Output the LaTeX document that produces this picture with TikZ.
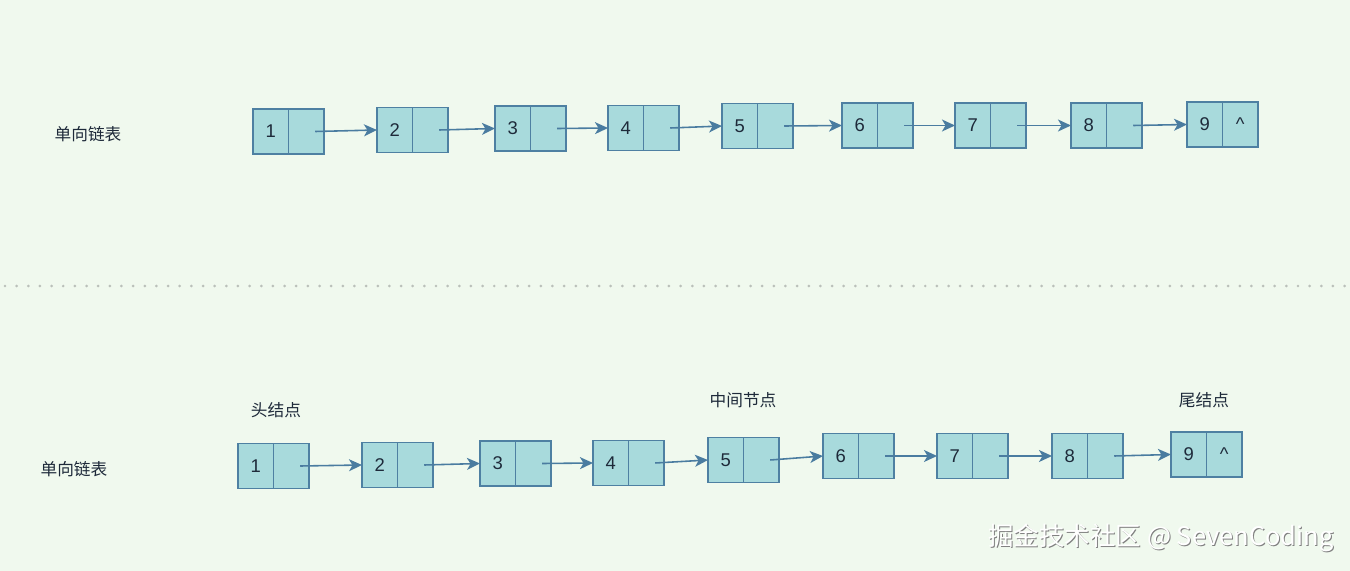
\documentclass[tikz,border=0pt]{standalone}
\usepackage{fontspec}
\setmainfont{Liberation Sans}
\newfontfamily\cjk{Noto Sans CJK SC}
\usetikzlibrary{positioning,arrows.meta}
\definecolor{bgmint}{RGB}{240,249,238}
\definecolor{cellfill}{RGB}{168,218,220}
\definecolor{celledge}{RGB}{78,128,162}
\definecolor{linkblue}{RGB}{74,124,160}
\definecolor{inkdark}{RGB}{30,42,58}
\definecolor{dotgray}{RGB}{186,192,186}

\begin{document}
\begin{tikzpicture}[x=0.02cm,y=-0.02cm,>={Stealth[length=7.4pt,width=6.8pt,inset=2pt]},
  cell/.style={draw=celledge,fill=cellfill,line width=1pt,minimum width=0.71cm,
    minimum height=0.9cm,inner sep=0pt,outer sep=0pt,text=inkdark,
    font=\fontsize{10.5}{12}\selectfont},
  link/.style={->,draw=linkblue,line width=0.9pt},
  tag/.style={text=inkdark,font=\cjk\fontsize{9.5}{11}\selectfont}]
  \useasboundingbox (0,0) rectangle (1350,571);
  \fill[bgmint] (0,0) rectangle (1350,571);
  % upper list
  \node[tag] (title1) at (88,134) {单向链表};
  \foreach \i/\x/\y/\p in {1/253/131.5/{},2/377/130/{},3/495/128.5/{},4/608/128/{},
      5/722/126/{},6/842/125.5/{},7/955/125.5/{},8/1071/125.5/{},9/1187/124.5/\textasciicircum} {
    \node[cell,anchor=west] (a\i) at (\x,\y) {\i};
    \node[cell,right=0pt of a\i] (pa\i) {\p};
  }
  \foreach \i [count=\j from 2] in {1,...,8}
    \draw[link] ([xshift=0.18cm]pa\i.center) -- (a\j.west);
  % separator
  \draw[dotgray,line width=1.7pt,line cap=round,dash pattern=on 0pt off 6.63pt] (5,286) -- (1345,286);
  % lower list
  \node[tag] (title2) at (74,469) {单向链表};
  \foreach \i/\x/\y/\p in {1/238/466/{},2/362/465/{},3/480/463.5/{},4/593/463/{},
      5/708/460/{},6/823/456/{},7/937/456/{},8/1052/456/{},9/1171/454.5/\textasciicircum} {
    \node[cell,anchor=west] (b\i) at (\x,\y) {\i};
    \node[cell,right=0pt of b\i] (pb\i) {\p};
  }
  \foreach \i [count=\j from 2] in {1,...,8}
    \draw[link] ([xshift=0.18cm]pb\i.center) -- (b\j.west);
  \node[tag] (head) at (276,410) {头结点};
  \node[tag] (mid) at (743,400) {中间节点};
  \node[tag] (tail) at (1204,400) {尾结点};
  % watermark
  \node[text=black!50,font=\cjk\fontsize{14.5}{16}\selectfont] (markshade) at (1162,539) {掘金技术社区 @ SevenCoding};
  \node[text=white,font=\cjk\fontsize{14.5}{16}\selectfont] (mark) at (1161,538) {掘金技术社区 @ SevenCoding};
\end{tikzpicture}
\end{document}
